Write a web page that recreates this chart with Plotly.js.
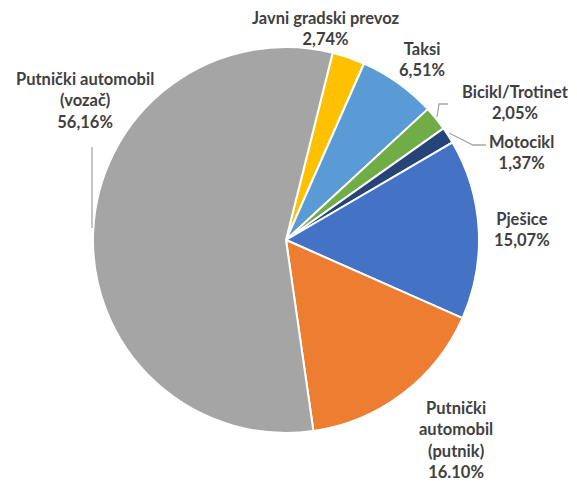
<!DOCTYPE html>
<html>
<head>
<meta charset="utf-8">
<script src="https://cdn.plot.ly/plotly-3.0.1.min.js"></script>
<style>html,body{margin:0;padding:0;background:#fff;}#chart{width:577px;height:481px;}</style>
</head>
<body>
<div id="chart"></div>
<script>
// Data (clockwise from the top, as drawn)
const categories = ["Javni gradski prevoz", "Taksi", "Bicikl/Trotinet", "Motocikl", "Pješice", "Putnički automobil (putnik)", "Putnički automobil (vozač)"];
const labelLines = [["Javni gradski prevoz"], ["Taksi"], ["Bicikl/Trotinet"], ["Motocikl"], ["Pješice"], ["Putnički", "automobil", "(putnik)"], ["Putnički automobil", "(vozač)"]];
const values = [2.74, 6.51, 2.05, 1.37, 15.07, 16.10, 56.16];
const valueText = ["2,74%", "6,51%", "2,05%", "1,37%", "15,07%", "16.10%", "56,16%"];
const colors = ["#FFC000", "#5B9BD5", "#70AD47", "#264478", "#4472C4", "#ED7D31", "#A5A5A5"];

const W = 577, H = 481;
const cx = 286, cy = 240, r = 193;

// label block centres (pixels)
const labelPos = [[326, 28], [422, 59], [515, 102], [521, 152], [522, 229], [456, 440], [85, 100]];

const px = x => x / W;
const py = y => 1 - y / H;

const annotations = categories.map((c, i) => ({
  xref: "paper", yref: "paper",
  x: px(labelPos[i][0]), y: py(labelPos[i][1]),
  xanchor: "center", yanchor: "middle",
  text: labelLines[i].concat([valueText[i]]).join("<br>"),
  showarrow: false, align: "center",
  font: {family: "Lato, 'Open Sans', sans-serif", size: 16.5, color: "#404040", weight: "bold"}
}));

const leader = {color: "#A6A6A6", width: 1.3};
const shapes = [
  {type: "line", xref: "paper", yref: "paper", x0: px(92), y0: py(147), x1: px(92), y1: py(228), line: leader},
  {type: "path", xref: "paper", yref: "paper",
   path: `M ${px(437)} ${py(117)} L ${px(439)} ${py(104)} L ${px(448)} ${py(104)}`, line: leader},
  {type: "path", xref: "paper", yref: "paper",
   path: `M ${px(449)} ${py(133)} L ${px(473)} ${py(145)} L ${px(486)} ${py(145)}`, line: leader}
];

const trace = {
  type: "pie",
  labels: categories,
  values: values,
  sort: false,
  direction: "clockwise",
  rotation: 14,
  marker: {colors: colors, line: {color: "#FFFFFF", width: 2}},
  textinfo: "none",
  hoverinfo: "label+percent",
  domain: {x: [(cx - r) / W, (cx + r) / W], y: [(H - cy - r) / H, (H - cy + r) / H]},
  showlegend: false
};

const layout = {
  width: W, height: H,
  margin: {l: 0, r: 0, t: 0, b: 0},
  paper_bgcolor: "#FFFFFF",
  showlegend: false,
  annotations: annotations,
  shapes: shapes
};

Plotly.newPlot("chart", [trace], layout, {displayModeBar: false, staticPlot: true});
</script>
</body>
</html>
